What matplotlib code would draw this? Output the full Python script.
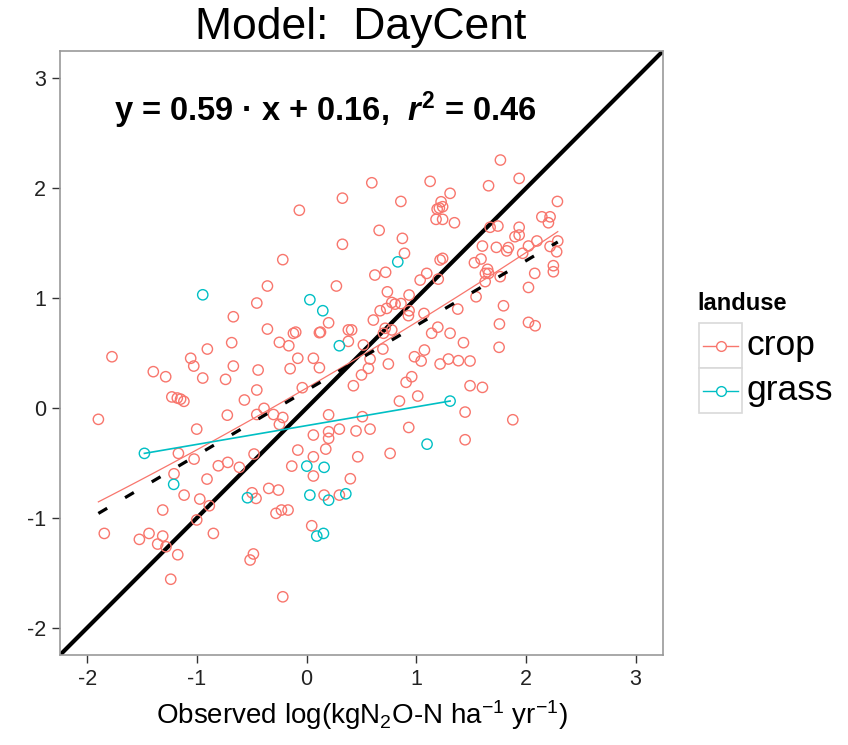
import numpy as np
import matplotlib
matplotlib.use("Agg")
import matplotlib.pyplot as plt
from matplotlib.lines import Line2D
from matplotlib.patches import Rectangle

plt.rcParams['font.family'] = ['Liberation Sans', 'DejaVu Sans']
plt.rcParams['mathtext.fontset'] = 'custom'
plt.rcParams['mathtext.rm'] = 'Liberation Sans'
plt.rcParams['mathtext.it'] = 'Liberation Sans:italic:bold'
plt.rcParams['mathtext.bf'] = 'Liberation Sans:bold'

# ---------------- data ----------------
crop_x = [0.326, -0.067, 0.326, -0.218, -0.358, 0.271, -0.455, -0.669, 0.2, -0.358,
          -0.121, -0.10, 0.116, 0.126, 0.38, 0.41, -0.684, -0.249, -0.163, 0.38,
          -0.906, -1.776, -1.058, -1.03, -0.081, 0.061, -0.669, -1.399, -1.286, -0.948,
          -0.74, -0.443, -0.151, 0.116, 0.5, -0.455, -0.04, 0.426,
          -1.23, -1.18, -1.15, -1.12, -0.568,
          -1.9, -0.724, -0.455, -0.389, -0.303, -0.218, -0.249, 0.2, -1.003, 0.061,
          0.2, 0.2, 0.298, 0.45, -1.17, -1.027, -0.806, -0.72, -0.614, -0.48,
          -0.081, 0.061, 0.174, 0.466, -0.136, 0.061, 0.398, -1.21, -0.909, -1.118,
          -0.975, -0.888, -1.313, -1.003, -0.498, -0.462, -0.346, -0.258, 0.159, 0.298,
          -0.28, -0.23, -0.17, 0.046, -1.846, -1.526, -1.438, -1.313, -1.359, -1.283,
          -0.851, -1.176, -0.486, -0.516, -1.24, -0.218,
          0.907, 0.958, 1.49, 1.603, 0.846, 1.013, 1.445, 1.88, 0.508, 0.578,
          0.931, 1.445, 0.761,
          1.767, 0.594, 1.126, 1.659, 1.938, 1.308, 0.859, 1.226, 1.24, 1.19,
          1.21, 2.287, 1.18, 1.24, 1.348, 2.145, 2.22, 2.205, 0.661, 0.873,
          1.673, 1.744, 1.938, 1.938, 1.9, 0.892, 1.603, 1.73, 1.825, 1.84,
          2.023, 2.1, 1.97, 2.29, 2.28, 2.22, 1.217, 1.24, 1.53, 1.59,
          1.65, 1.63, 1.66, 2.25, 2.25, 2.08, 0.622, 0.72, 1.035, 1.095,
          1.2, 1.765, 1.628, 2.023, 0.736, 0.934, 1.545, 0.776, 0.806, 0.86,
          0.67, 0.73, 0.934, 0.928, 1.07, 1.378, 1.795, 0.608, 0.716, 0.776,
          0.7, 1.14, 1.196, 1.308, 1.758, 2.023, 2.084, 1.43, 1.755, 0.517,
          0.695, 1.074, 0.983, 1.044, 0.578, 0.563, 0.745, 1.217, 1.293, 1.384,
          1.49]
crop_y = [1.91, 1.80, 1.49, 1.35, 1.11, 1.11, 0.955, 0.83, 0.775, 0.718,
          0.679, 0.69, 0.685, 0.69, 0.71, 0.71, 0.594, 0.597, 0.566, 0.606,
          0.536, 0.466, 0.452, 0.381, 0.452, 0.452, 0.381, 0.33, 0.284, 0.272,
          0.26, 0.345, 0.357, 0.366, 0.30, 0.163, 0.184, 0.202,
          0.10, 0.09, 0.08, 0.06, 0.072,
          -0.104, -0.066, -0.06, -0.004, -0.06, -0.087, -0.15, -0.063, -0.193, -0.247,
          -0.217, -0.277, -0.193, -0.21, -0.414, -0.466, -0.527, -0.496, -0.541, -0.42,
          -0.384, -0.445, -0.375, -0.445, -0.53, -0.62, -0.645, -0.60, -0.648, -0.794,
          -0.83, -0.891, -0.93, -1.02, -0.773, -0.824, -0.733, -0.748, -0.794, -0.794,
          -0.96, -0.93, -0.93, -1.073, -1.143, -1.197, -1.143, -1.167, -1.24, -1.264,
          -1.143, -1.337, -1.33, -1.385, -1.56, -1.72,
          0.233, 0.284, 0.202, 0.187, 0.062, 0.108, -0.038, -0.108, -0.08, -0.193,
          -0.178, -0.29, -0.414,
          2.257, 2.05, 2.063, 2.023, 2.09, 1.954, 1.88, 1.877, 1.832, 1.81,
          1.82, 1.88, 1.717, 1.717, 1.686, 1.74, 1.74, 1.686, 1.617, 1.544,
          1.645, 1.656, 1.645, 1.574, 1.559, 1.408, 1.474, 1.462, 1.43, 1.46,
          1.474, 1.52, 1.408, 1.52, 1.422, 1.47, 1.347, 1.362, 1.322, 1.356,
          1.262, 1.225, 1.225, 1.295, 1.24, 1.225, 1.21, 1.235, 1.164, 1.225,
          1.173, 1.195, 1.15, 1.097, 1.057, 1.028, 1.012, 0.96, 0.945, 0.95,
          0.885, 0.906, 0.885, 0.84, 0.86, 0.90, 0.93, 0.80, 0.725, 0.71,
          0.68, 0.68, 0.735, 0.68, 0.764, 0.779, 0.748, 0.594, 0.552, 0.573,
          0.536, 0.527, 0.466, 0.427, 0.445, 0.36, 0.40, 0.40, 0.445, 0.43,
          0.427]
grass_x = [-0.948, 0.029, 0.147, 0.298, 0.831, -1.48, 0.001, 0.159, -1.213, -0.54,
           0.029, 0.2, 0.357, 0.092, 0.153, 1.308, 1.098]
grass_y = [1.03, 0.985, 0.885, 0.566, 1.33, -0.414, -0.53, -0.541, -0.696, -0.818,
           -0.794, -0.84, -0.782, -1.167, -1.143, 0.062, -0.33]

landuse = ['crop', 'grass']
colors = {'crop': '#F8766D', 'grass': '#00BFC4'}
overall_slope, overall_intercept, overall_r2 = 0.59, 0.16, 0.46
grass_slope, grass_intercept = 0.171, -0.161
axis_lim = (-2.25, 3.25)
ticks = [-2, -1, 0, 1, 2, 3]
title = 'Model:  DayCent'

W, H = 848, 745
fig = plt.figure(figsize=(W / 100, H / 100), dpi=100)
L, R, T, B = 60, 663, 51, 655
ax = fig.add_axes([L / W, 1 - B / H, (R - L) / W, (B - T) / H])
ax.set_xlim(axis_lim)
ax.set_ylim(axis_lim)

# identity line
ax.plot(axis_lim, axis_lim, color='black', lw=3.0, solid_capstyle='butt', zorder=2)

# points
ax.scatter(crop_x, crop_y, s=55, facecolors='none', edgecolors=colors['crop'], linewidths=1.0, zorder=3)
ax.scatter(grass_x, grass_y, s=55, facecolors='none', edgecolors=colors['grass'], linewidths=1.0, zorder=3)

# crop smooth (quadratic fit to crop points)
cx = np.linspace(min(crop_x), max(crop_x), 80)
cc = np.polyfit(crop_x, crop_y, 2)
ax.plot(cx, np.polyval(cc, cx), color=colors['crop'], lw=0.9, zorder=4)

# grass linear fit
gx = np.array([min(grass_x), max(grass_x)])
ax.plot(gx, grass_slope * gx + grass_intercept, color=colors['grass'], lw=1.2, zorder=4)

# overall regression (dashed)
all_x = np.array(crop_x + grass_x)
ox = np.array([all_x.min(), all_x.max()])
ax.plot(ox, overall_slope * ox + overall_intercept, color='black', lw=2.3,
        dashes=(3.2, 6.5), zorder=5)

# equation
eq = (f'y = {overall_slope:.2f} · x + {overall_intercept:.2f},  '
      + r'$\mathit{r}^{\mathbf{2}}$' + f' = {overall_r2:.2f}')
ax.text(0.17, 2.71, eq, ha='center', va='center', fontsize=23.5, fontweight='bold', zorder=6)

ax.set_xticks(ticks)
ax.set_yticks(ticks)
ax.set_xticklabels([str(t) for t in ticks])
ax.set_yticklabels([str(t) for t in ticks])
ax.tick_params(direction='out', length=6, width=1, color='#333333', labelsize=15.5,
               labelcolor='#222222', pad=4)
for s in ax.spines.values():
    s.set_color('#999999')
    s.set_linewidth(1.2)

ax.set_xlabel(r'Observed log(kgN$_2$O-N ha$^{-1}$ yr$^{-1}$)', fontsize=20, labelpad=6)
fig.text(361 / W, 1 - 28 / H, title, ha='center', va='center', fontsize=32)

# legend (drawn manually, ggplot-style keys)
fig.text(697 / W, 1 - 304 / H, 'landuse', ha='left', va='center', fontsize=17, fontweight='bold')
key_top = 323
key_h = 45
for i, lab in enumerate(landuse):
    y0 = key_top + i * key_h
    fig.patches.append(Rectangle((699 / W, 1 - (y0 + key_h) / H), 43 / W, key_h / H,
                                 transform=fig.transFigure, facecolor='white',
                                 edgecolor='#d9d9d9', lw=1.2))
    yc = 1 - (y0 + key_h / 2) / H
    fig.lines.append(Line2D([703 / W, 738 / W], [yc, yc], transform=fig.transFigure,
                            color=colors[lab], lw=1.0))
    fig.lines.append(Line2D([720.5 / W], [yc], transform=fig.transFigure, marker='o',
                            markersize=7, markerfacecolor='white',
                            markeredgecolor=colors[lab], markeredgewidth=1.0))
    fig.text(747 / W, yc, lab, ha='left', va='center', fontsize=25.5)

fig.savefig('out.png', dpi=100)
